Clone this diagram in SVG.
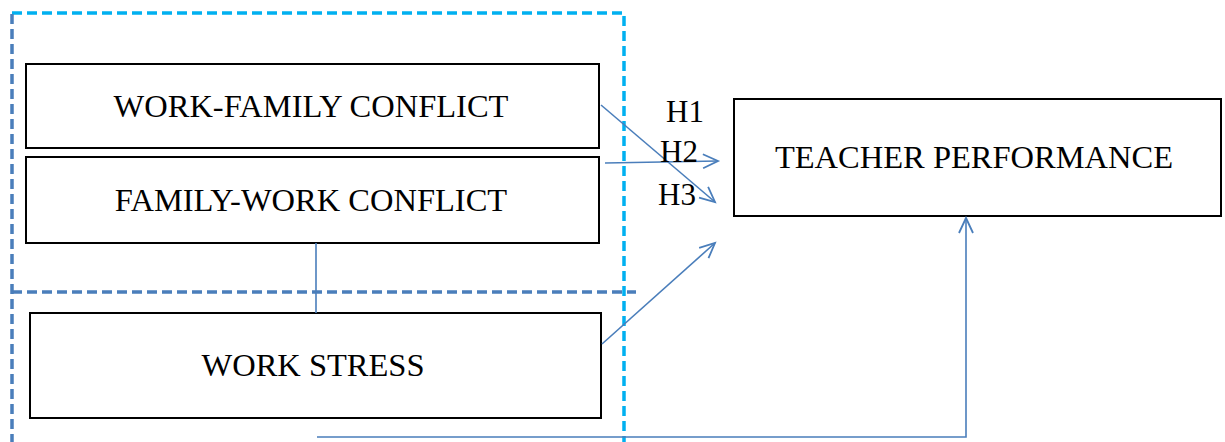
<svg xmlns="http://www.w3.org/2000/svg" width="1225" height="442" viewBox="0 0 1225 442">
<style>
.box{fill:#fff;stroke:#000;stroke-width:2}
.t{font-family:"Liberation Serif","Times New Roman",serif;font-size:32.5px;fill:#000;text-anchor:middle}
.h{font-family:"Liberation Serif","Times New Roman",serif;font-size:31px;fill:#000}
.c{fill:none;stroke:#4A7EBB;stroke-width:1.6}
.d1{fill:none;stroke:#00B0F0;stroke-width:3.5;stroke-dasharray:10 5}
.d2{fill:none;stroke:#4A7EBB;stroke-width:3.5;stroke-dasharray:10 5}
</style>
<defs>
<marker id="arr" markerWidth="20" markerHeight="20" refX="16" refY="8" orient="auto" markerUnits="userSpaceOnUse" viewBox="0 0 20 16">
<path d="M1,1 L16,8 L1,15" fill="none" stroke="#4A7EBB" stroke-width="1.8"/>
</marker>
</defs>
<g id="frames">
<path class="d1" d="M12,13 H624 V442"/>
<path class="d2" d="M12,14 V442"/>
<path class="d2" d="M12,292 H636"/>
</g>
<g id="wfc"><rect class="box" x="26" y="64" width="573" height="84"/><text class="t" x="311" y="117">WORK-FAMILY CONFLICT</text></g>
<g id="fwc"><rect class="box" x="26" y="157" width="573" height="86"/><text class="t" x="311" y="211">FAMILY-WORK CONFLICT</text></g>
<g id="ws"><rect class="box" x="30" y="313" width="571" height="105"/><text class="t" x="313" y="376">WORK STRESS</text></g>
<g id="tp"><rect class="box" x="734" y="99" width="487" height="117"/><text class="t" x="974" y="168">TEACHER PERFORMANCE</text></g>
<g id="connectors">
<line class="c" x1="316" y1="243" x2="316" y2="313"/>
<line class="c" x1="601" y1="105" x2="715" y2="202" marker-end="url(#arr)"/>
<line class="c" x1="605" y1="163" x2="718" y2="161" marker-end="url(#arr)"/>
<line class="c" x1="602" y1="344" x2="715" y2="243" marker-end="url(#arr)"/>
<polyline class="c" points="317,437 966,437 966,218" marker-end="url(#arr)"/>
</g>
<g id="labels">
<text class="h" x="666" y="122">H1</text>
<text class="h" x="660" y="162">H2</text>
<text class="h" x="658" y="205">H3</text>
</g>
</svg>
